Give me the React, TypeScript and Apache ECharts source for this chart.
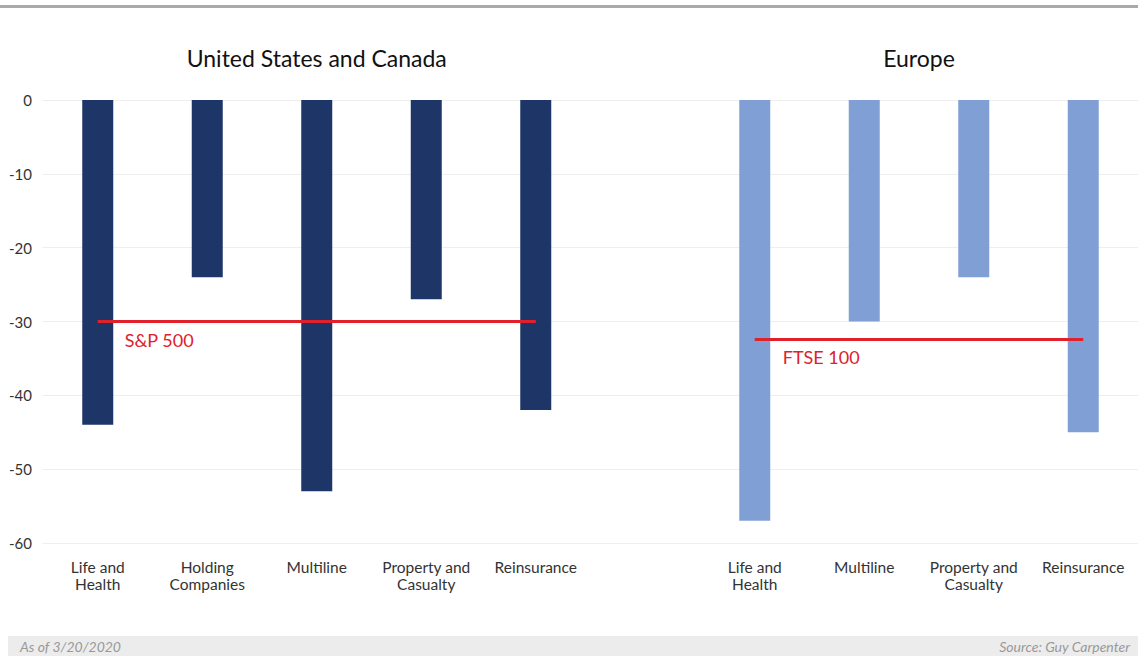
import React, { useEffect, useRef } from "react";
import * as echarts from "echarts";

const usCategories = ["Life and\nHealth", "Holding\nCompanies", "Multiline", "Property and\nCasualty", "Reinsurance"];
const usValues = [-44, -24, -53, -27, -42];
const euCategories = ["Life and\nHealth", "Multiline", "Property and\nCasualty", "Reinsurance"];
const euValues = [-57, -30, -24, -45];
const usBenchmark = { name: "S&P 500", value: -30 };
const euBenchmark = { name: "FTSE 100", value: -32.4 };
const yTicks = { min: -60, max: 0, interval: 10 };
const groupTitles = ["United States and Canada", "Europe"];
const footLeft = "As of 3/20/2020";
const footRight = "Source: Guy Carpenter";

const US_COLOR = "#1e3568";
const EU_COLOR = "#809fd4";
const RED = "#e0212b";
const FONT = "Lato, 'Noto Sans', sans-serif";

export default function App() {
  const ref = useRef<HTMLDivElement>(null);
  useEffect(() => {
    if (!ref.current) return;
    const chart = echarts.init(ref.current, null, { renderer: "svg" });
    const categories = [...usCategories, "", ...euCategories];
    const data: any[] = [
      ...usValues.map((v) => ({ value: v, itemStyle: { color: US_COLOR } })),
      "-",
      ...euValues.map((v) => ({ value: v, itemStyle: { color: EU_COLOR } })),
    ];
    const euStart = usCategories.length + 1;
    const euEnd = categories.length - 1;
    chart.setOption({
      animation: false,
      textStyle: { fontFamily: FONT },
      grid: { left: 43, right: 0, top: 100, bottom: 114 },
      xAxis: {
        type: "category",
        data: categories,
        axisLine: { show: false },
        axisTick: { show: false },
        axisLabel: {
          interval: 0,
          color: "#333",
          fontSize: 15.5,
          lineHeight: 17,
          margin: 15,
          fontFamily: FONT,
          verticalAlign: "top",
        },
      },
      yAxis: {
        type: "value",
        min: yTicks.min,
        max: yTicks.max,
        interval: yTicks.interval,
        axisLine: { show: false },
        axisTick: { show: false },
        splitLine: { lineStyle: { color: "#eeeeee", width: 1 } },
        axisLabel: { color: "#333", fontSize: 15, margin: 11, fontFamily: FONT },
      },
      series: [
        {
          type: "bar",
          data,
          barWidth: 31,
          markLine: {
            symbol: "none",
            silent: true,
            label: { show: false },
            lineStyle: { color: RED, width: 3, type: "solid" },
            data: [
              [
                { coord: [0, usBenchmark.value] },
                { coord: [usCategories.length - 1, usBenchmark.value] },
              ],
              [
                { coord: [euStart, euBenchmark.value] },
                { coord: [euEnd, euBenchmark.value] },
              ],
            ],
          },
        },
      ],
    });

    const p = (x: number, y: number) => chart.convertToPixel({ gridIndex: 0 }, [x, y]) as number[];
    const usTitleX = p(Math.floor((usCategories.length - 1) / 2), 0)[0];
    const euTitleX = (p(euStart, 0)[0] + p(euEnd, 0)[0]) / 2;
    const usLine = p(0, usBenchmark.value);
    const euLine = p(euStart, euBenchmark.value);
    chart.setOption({
      graphic: [
        { type: "rect", shape: { x: 0, y: 5, width: 1138, height: 3 }, style: { fill: "#a9a9a9" } },
        {
          type: "text",
          x: usTitleX,
          y: 58,
          style: { text: groupTitles[0], font: `normal 23px ${FONT}`, fill: "#111", align: "center", verticalAlign: "middle" },
        },
        {
          type: "text",
          x: euTitleX,
          y: 58,
          style: { text: groupTitles[1], font: `normal 23px ${FONT}`, fill: "#111", align: "center", verticalAlign: "middle" },
        },
        {
          type: "text",
          x: usLine[0] + 27,
          y: usLine[1] + 18,
          style: { text: usBenchmark.name, font: `18px ${FONT}`, fill: RED, align: "left", verticalAlign: "middle" },
        },
        {
          type: "text",
          x: euLine[0] + 28,
          y: euLine[1] + 18,
          style: { text: euBenchmark.name, font: `18px ${FONT}`, fill: RED, align: "left", verticalAlign: "middle" },
        },
        { type: "rect", shape: { x: 8, y: 636, width: 1130, height: 20 }, style: { fill: "#ececec" } },
        {
          type: "text",
          x: 20,
          y: 646,
          style: { text: footLeft, font: `italic 14px ${FONT}`, fill: "#999", align: "left", verticalAlign: "middle" },
        },
        {
          type: "text",
          x: 1130,
          y: 646,
          style: { text: footRight, font: `italic 14px ${FONT}`, fill: "#999", align: "right", verticalAlign: "middle" },
        },
      ],
    });
    return () => chart.dispose();
  }, []);
  return (
    <div
      ref={ref}
      style={{ position: "fixed", left: 0, top: 0, width: 1138, height: 657, background: "#fff" }}
    />
  );
}
